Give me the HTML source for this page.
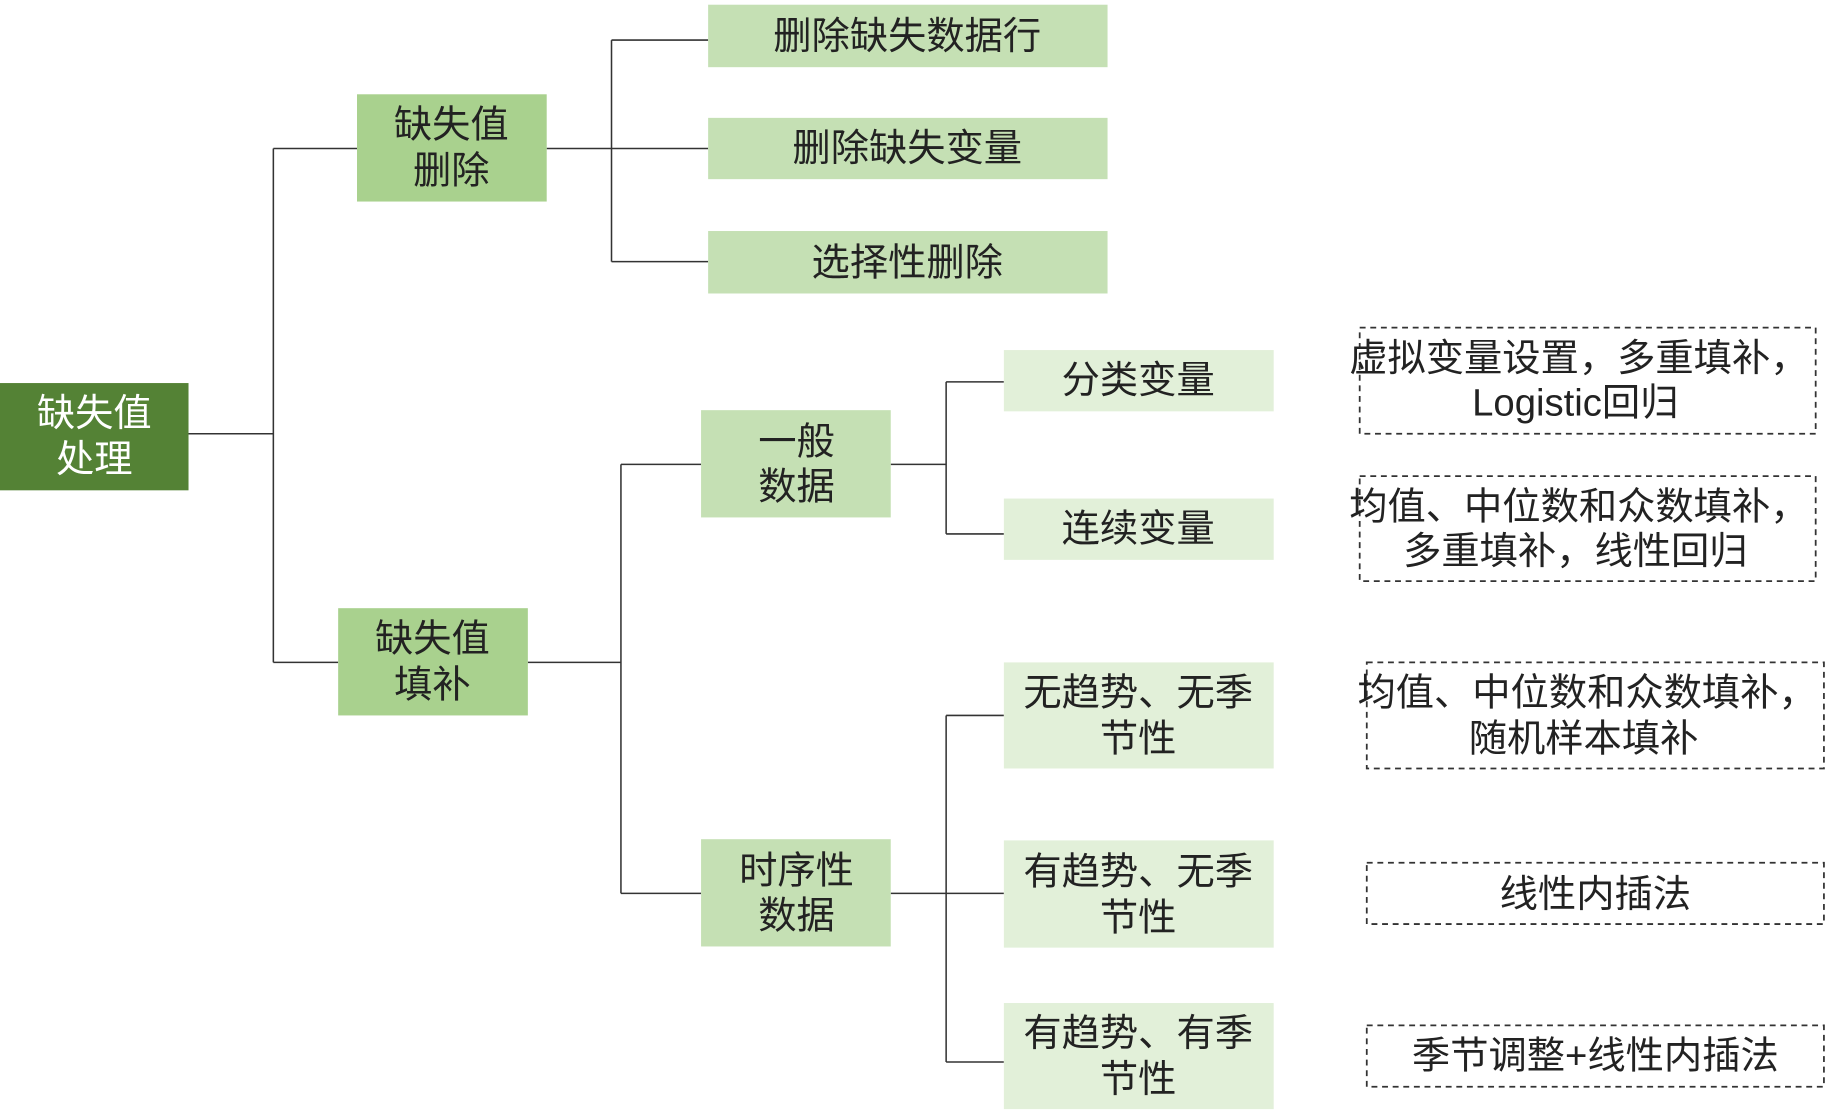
<!DOCTYPE html>
<html><head><meta charset="utf-8"><style>
html,body{margin:0;padding:0;background:#fff;}
svg{display:block;}
text{font-family:"Liberation Sans","Noto Sans CJK SC",sans-serif;font-size:32.5px;fill:#222;text-anchor:middle;dominant-baseline:central;}
</style></head><body>
<svg width="1831" height="1115" viewBox="0 0 1554 946" preserveAspectRatio="none" xmlns="http://www.w3.org/2000/svg">
<g stroke="#333" stroke-width="1.3" fill="none">
<path d="M160 368H232M232 126V562M232 126H303M232 562H287"/>
<path d="M464 126H601M519 34V222M519 34H601M519 222H601"/>
<path d="M448 562H527M527 394V758M527 394H595M527 758H595"/>
<path d="M756 394H803M803 324V453M803 324H852M803 453H852"/>
<path d="M756 758H852M803 607V901M803 607H852M803 901H852"/>
</g>
<rect x="0" y="325" width="160" height="91" fill="#548235"/>
<text x="80" y="351" style="fill:#fff">缺失值</text><text x="80" y="390" style="fill:#fff">处理</text>
<rect x="303" y="80" width="161" height="91" fill="#a9d18e"/>
<text x="383" y="106">缺失值</text><text x="383" y="145">删除</text>
<rect x="287" y="516" width="161" height="91" fill="#a9d18e"/>
<text x="367" y="542">缺失值</text><text x="367" y="581">填补</text>
<g fill="#c5e0b4">
<rect x="601" y="4" width="339" height="53"/><rect x="601" y="100" width="339" height="52"/><rect x="601" y="196" width="339" height="53"/>
<rect x="595" y="348" width="161" height="91"/><rect x="595" y="712" width="161" height="91"/>
</g>
<text x="770" y="31">删除缺失数据行</text><text x="770" y="126">删除缺失变量</text><text x="770" y="223">选择性删除</text>
<text x="676" y="375">一般</text><text x="676" y="413">数据</text>
<text x="676" y="739">时序性</text><text x="676" y="777">数据</text>
<g fill="#e2f0d9">
<rect x="852" y="297" width="229" height="52"/><rect x="852" y="423" width="229" height="52"/>
<rect x="852" y="562" width="229" height="90"/><rect x="852" y="713" width="229" height="91"/><rect x="852" y="851" width="229" height="90"/>
</g>
<text x="966" y="323">分类变量</text><text x="966" y="449">连续变量</text>
<text x="966" y="588">无趋势、无季</text><text x="966" y="627">节性</text>
<text x="966" y="740">有趋势、无季</text><text x="966" y="779">节性</text>
<text x="966" y="877">有趋势、有季</text><text x="966" y="916">节性</text>
<g fill="none" stroke="#333" stroke-width="1.5" stroke-dasharray="5,4">
<rect x="1154" y="278" width="387" height="90"/><rect x="1154" y="404" width="387" height="89"/>
<rect x="1160" y="562" width="388" height="90"/><rect x="1160" y="732" width="388" height="52"/><rect x="1160" y="870" width="388" height="52"/>
</g>
<text x="1340" y="304">虚拟变量设置，多重填补，</text><text x="1337" y="342">Logistic回归</text>
<text x="1340" y="430">均值、中位数和众数填补，</text><text x="1337" y="468">多重填补，线性回归</text>
<text x="1347" y="588">均值、中位数和众数填补，</text><text x="1344" y="627">随机样本填补</text>
<text x="1354" y="759">线性内插法</text>
<text x="1354" y="896">季节调整+线性内插法</text>
</svg>
</body></html>
